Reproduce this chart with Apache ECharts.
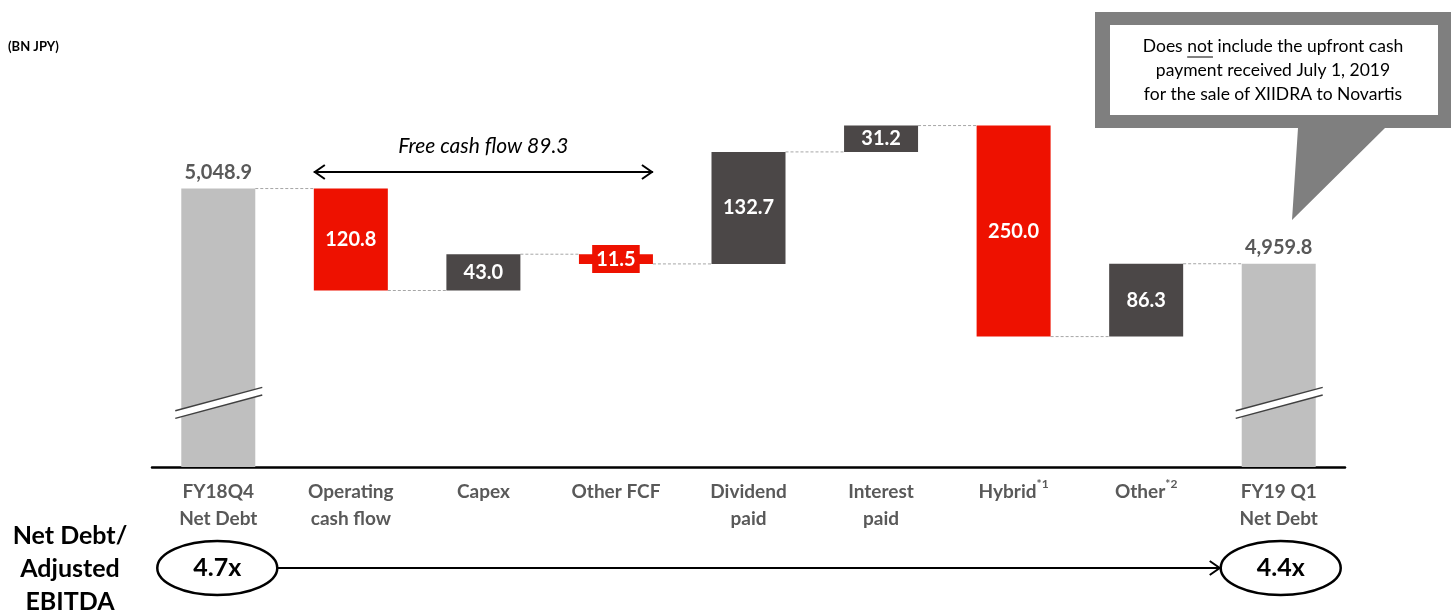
<!DOCTYPE html>
<html>
<head>
<meta charset="utf-8">
<script src="https://cdn.jsdelivr.net/npm/echarts@6/dist/echarts.min.js"></script>
<style>
html, body { margin: 0; padding: 0; background: #fff; }
#chart { width: 1452px; height: 614px; }
</style>
</head>
<body>
<div id="chart"></div>
<script>
// data
var categories = ['FY18Q4\nNet Debt', 'Operating\ncash flow', 'Capex', 'Other FCF', 'Dividend\npaid', 'Interest\npaid', 'Hybrid*1', 'Other*2', 'FY19 Q1\nNet Debt'];
var startDebt = 5048.9;
var endDebt = 4959.8;
var changes = [-120.8, 43.0, -11.5, 132.7, 31.2, -250.0, 86.3];
var breakAt = 4795;
var ratioStart = '4.7x';
var ratioEnd = '4.4x';
var fcfNote = 'Free cash flow 89.3';
var unitText = '(BN JPY)';
var ratioTitle = 'Net Debt/\nAdjusted\nEBITDA';
var calloutLines = ['Does not include the upfront cash', 'payment received July 1, 2019', 'for the sale of XIIDRA to Novartis'];

var RED = '#EE1100', DARK = '#4B4747', LIGHT = '#BFBFBF', TXT = '#595959';
var FONT = 'Lato, "Open Sans", sans-serif';
var BAR_W = 74;

function fmt(v) {
    return v.toLocaleString('en-US', { minimumFractionDigits: 1, maximumFractionDigits: 1 });
}

// waterfall: transparent base + visible part, stacked
var totalLabel = function (v) {
    return { position: 'top', color: TXT, fontWeight: 'bold', fontSize: 20, distance: 6, formatter: function () { return fmt(v); } };
};
var baseVals = [0];
var barVals = [{ value: startDebt, itemStyle: { color: LIGHT }, label: totalLabel(startDebt) }];
var levels = [startDebt];
var level = startDebt;
changes.forEach(function (c) {
    var next = level + c;
    baseVals.push(Math.min(level, next));
    var item = { value: Math.abs(c), itemStyle: { color: c < 0 ? RED : DARK } };
    if (Math.abs(c) < 20) {
        item.label = { backgroundColor: RED, padding: [4, 4] };
    }
    barVals.push(item);
    level = next;
    levels.push(level);
});
baseVals.push(0);
barVals.push({ value: endDebt, itemStyle: { color: LIGHT }, label: totalLabel(endDebt) });

var connData = levels.map(function (v, i) { return [i, v]; });

var chart = echarts.init(document.getElementById('chart'));
var option = {
    animation: false,
    textStyle: { fontFamily: FONT },
    grid: { left: 152, right: 107, top: 61, bottom: 147 },
    xAxis: {
        type: 'category',
        data: categories,
        axisLine: { lineStyle: { color: '#000', width: 2.5 } },
        axisTick: { show: false },
        axisLabel: {
            interval: 0,
            color: TXT, fontSize: 19, fontWeight: 'bold', lineHeight: 27, margin: 11,
            fontFamily: FONT,
            formatter: function (v) { return v.replace(/\*(\d)/, '{sup|*$1}'); },
            rich: {
                sup: { fontSize: 12, fontWeight: 'bold', color: TXT, verticalAlign: 'top', lineHeight: 27, fontFamily: FONT }
            }
        }
    },
    yAxis: {
        type: 'value', min: 4719, max: 5200, show: false,
        splitLine: { show: false }
    },
    series: [
        {
            type: 'bar', stack: 'wf', barWidth: BAR_W, clip: true,
            itemStyle: { color: 'transparent' },
            data: baseVals
        },
        {
            type: 'bar', stack: 'wf', barWidth: BAR_W, clip: true,
            label: {
                show: true, position: 'inside', color: '#fff', fontSize: 20, fontWeight: 'bold', fontFamily: FONT,
                formatter: function (p) { return p.value.toFixed(1); }
            },
            data: barVals
        },
        {
            type: 'custom', z: 1,
            encode: { x: 0, y: 1 },
            renderItem: function (params, api) {
                var i = api.value(0), v = api.value(1);
                var p1 = api.coord([i, v]), p2 = api.coord([i + 1, v]);
                return {
                    type: 'line',
                    shape: { x1: p1[0] + BAR_W / 2, y1: p1[1], x2: p2[0] - BAR_W / 2, y2: p2[1] },
                    style: { stroke: '#A6A6A6', lineWidth: 1, lineDash: [3, 2] }
                };
            },
            data: connData.slice(0, 8)
        },
        {
            type: 'custom', z: 5,
            encode: { x: 0, y: 1 },
            renderItem: function (params, api) {
                var p = api.coord([api.value(0), api.value(1)]);
                var cx = p[0], cy = p[1];
                var a = [cx - 43, cy - 3.8 + 11.7], b = [cx + 44, cy - 3.8 - 11.7];
                var c = [cx + 44, cy + 3.8 - 11.7], d = [cx - 43, cy + 3.8 + 11.7];
                var ls = { stroke: '#404040', lineWidth: 1.5 };
                return {
                    type: 'group',
                    children: [
                        { type: 'polygon', shape: { points: [a, b, c, d] }, style: { fill: '#fff' } },
                        { type: 'line', shape: { x1: a[0], y1: a[1], x2: b[0], y2: b[1] }, style: ls },
                        { type: 'line', shape: { x1: d[0], y1: d[1], x2: c[0], y2: c[1] }, style: ls }
                    ]
                };
            },
            data: [[0, breakAt], [8, breakAt]]
        }
    ]
};
chart.setOption(option);

// annotations placed from axis positions
var pOp = chart.convertToPixel({ gridIndex: 0 }, [1, startDebt]);
var pOf = chart.convertToPixel({ gridIndex: 0 }, [3, startDebt]);
var pFirst = chart.convertToPixel({ gridIndex: 0 }, [0, startDebt]);
var pLast = chart.convertToPixel({ gridIndex: 0 }, [8, endDebt]);
var fx1 = pOp[0] - BAR_W / 2, fx2 = pOf[0] + BAR_W / 2, fy = 172;
var ey = 568, erx = 60, ery = 27;
var ex1 = pFirst[0] - 1, ex2 = pLast[0] + 2;

// underline position for "not"
var CF = 17.5;
var ctx = document.createElement('canvas').getContext('2d');
ctx.font = CF + 'px ' + FONT;
var lineW = ctx.measureText(calloutLines[0]).width;
var preW = ctx.measureText('Does ').width;
var notW = ctx.measureText('not').width;
var calloutCx = 1273;
var ulx = calloutCx - lineW / 2 + preW;

var black = { stroke: '#000', lineWidth: 2, fill: null };
chart.setOption({
    graphic: [
        { type: 'text', left: 8, top: 40, style: { text: unitText, font: 'bold 13px ' + FONT, fill: '#000' } },
        // free cash flow arrow
        { type: 'line', shape: { x1: fx1, y1: fy, x2: fx2, y2: fy }, style: black },
        { type: 'polyline', shape: { points: [[fx1 + 11, fy - 7], [fx1 + 1, fy], [fx1 + 11, fy + 7]] }, style: black },
        { type: 'polyline', shape: { points: [[fx2 - 11, fy - 7], [fx2 - 1, fy], [fx2 - 11, fy + 7]] }, style: black },
        { type: 'text', x: (fx1 + fx2) / 2, y: 146, style: { text: fcfNote, font: 'italic 21px ' + FONT, fill: '#000', align: 'center', verticalAlign: 'middle' } },
        // callout
        { type: 'polygon', shape: { points: [[1095, 12], [1451, 12], [1451, 128], [1385, 128], [1292, 220], [1298, 128], [1095, 128]] }, style: { fill: '#7F7F7F' } },
        { type: 'rect', shape: { x: 1110, y: 25, width: 328, height: 90 }, style: { fill: '#fff' } },
        { type: 'text', x: calloutCx, y: 70, style: { text: calloutLines.join('\n'), font: CF + 'px ' + FONT, lineHeight: 24, fill: '#000', align: 'center', verticalAlign: 'middle' } },
        { type: 'line', shape: { x1: ulx, y1: 57, x2: ulx + notW, y2: 57 }, style: { stroke: '#000', lineWidth: 1 } },
        // ratio row
        { type: 'text', x: 70, y: 569, style: { text: ratioTitle, font: 'bold 25px ' + FONT, lineHeight: 33, fill: '#000', align: 'center', verticalAlign: 'middle' } },
        { type: 'ellipse', shape: { cx: ex1, cy: ey, rx: erx, ry: ery }, style: { stroke: '#000', lineWidth: 2.5, fill: '#fff' } },
        { type: 'ellipse', shape: { cx: ex2, cy: ey, rx: erx, ry: ery }, style: { stroke: '#000', lineWidth: 2.5, fill: '#fff' } },
        { type: 'text', x: ex1, y: ey, style: { text: ratioStart, font: 'bold 25px ' + FONT, fill: '#000', align: 'center', verticalAlign: 'middle' } },
        { type: 'text', x: ex2, y: ey, style: { text: ratioEnd, font: 'bold 25px ' + FONT, fill: '#000', align: 'center', verticalAlign: 'middle' } },
        { type: 'line', shape: { x1: ex1 + erx, y1: ey, x2: ex2 - erx, y2: ey }, style: black },
        { type: 'polyline', shape: { points: [[ex2 - erx - 11, ey - 7], [ex2 - erx - 1, ey], [ex2 - erx - 11, ey + 7]] }, style: black }
    ]
});
</script>
</body>
</html>
